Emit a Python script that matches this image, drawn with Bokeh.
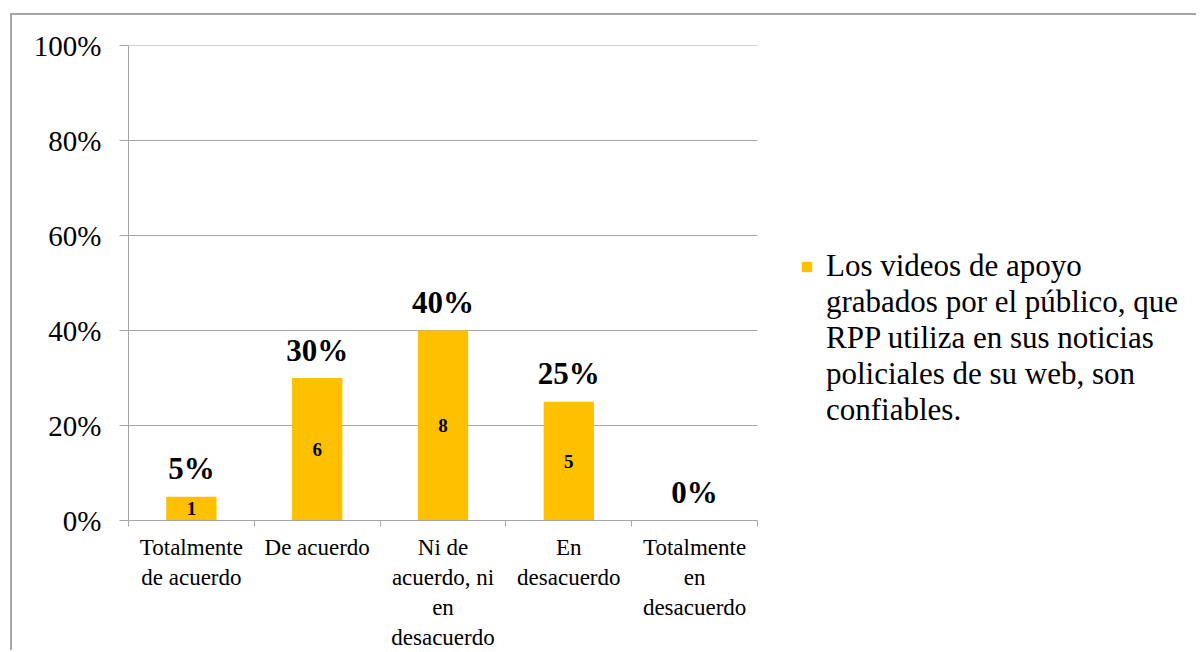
from bokeh.plotting import figure
from bokeh.models import (ColumnDataSource, FixedTicker, NumeralTickFormatter,
                          Range1d, Legend, LegendItem)
from bokeh.core.properties import value
from bokeh.embed import file_html
from bokeh.resources import INLINE

categories = ["Totalmente\nde acuerdo", "De acuerdo",
              "Ni de\nacuerdo, ni\nen\ndesacuerdo", "En\ndesacuerdo",
              "Totalmente\nen\ndesacuerdo"]
percentages = [0.05, 0.30, 0.40, 0.25, 0.00]
counts = [1, 6, 8, 5, 0]
y_ticks = [0.0, 0.2, 0.4, 0.6, 0.8, 1.0]
series_name_lines = ["Los videos de apoyo", "grabados por el público, que",
                     "RPP utiliza en sus noticias", "policiales de su web, son",
                     "confiables."]

FONT = "Liberation Serif"
BAR = "#FFC000"
GRAY = "#A6A6A6"

n = len(categories)
xpos = [i + 0.5 for i in range(n)]
src = ColumnDataSource(dict(
    x=xpos, top=percentages,
    pct=[f"{int(round(v * 100))}%" for v in percentages],
))
inner = ColumnDataSource(dict(
    x=[xpos[i] for i, c in enumerate(counts) if c > 0],
    y=[percentages[i] / 2 for i, c in enumerate(counts) if c > 0],
    t=[str(c) for c in counts if c > 0],
))
grid_src = ColumnDataSource(dict(x0=[0] * len(y_ticks), x1=[n] * len(y_ticks), y=y_ticks))

# canvas starts at page (12, 15); plot area of the categories is 629 px wide,
# the frame continues to the right edge so the legend sits inside it
W, H = 1186, 637
LEFT = 116
CAT_PX = 629
frame_px = W - LEFT
p = figure(width=W, height=H, output_backend="svg", toolbar_location=None,
           x_range=Range1d(0, n * frame_px / CAT_PX), y_range=Range1d(0, 1),
           min_border_left=LEFT, min_border_right=0,
           min_border_top=30, min_border_bottom=H - 505)
p.styles = {"margin-left": "10px", "margin-top": "13px",
            "border-left": f"2px solid {GRAY}", "border-top": f"2px solid {GRAY}"}
p.outline_line_color = None
p.background_fill_color = "white"
p.border_fill_color = "white"

# horizontal gridlines over the category area only
p.segment(x0="x0", x1="x1", y0="y", y1="y", source=grid_src,
          line_color=GRAY, line_width=1)

bars = p.vbar(x="x", top="top", width=0.4, source=src, fill_color=BAR, line_color=None)
# invisible renderer used only to continue the legend text without a swatch
cont = p.vbar(x=[], top=[], width=0.4, fill_alpha=0, line_alpha=0)

p.text(x="x", y="top", text="pct", source=src, y_offset=-28,
       text_align="center", text_baseline="middle",
       text_font=value(FONT), text_font_size="31px", text_font_style="bold",
       text_color="black")
p.text(x="x", y="y", text="t", source=inner,
       text_align="center", text_baseline="middle",
       text_font=value(FONT), text_font_size="19px", text_font_style="bold",
       text_color="black")

# y axis
p.yaxis.ticker = FixedTicker(ticks=y_ticks)
p.yaxis.formatter = NumeralTickFormatter(format="0%")
p.yaxis.major_label_text_font = FONT
p.yaxis.major_label_text_font_size = "29px"
p.yaxis.major_label_text_color = "black"
p.yaxis.axis_line_color = GRAY
p.yaxis.major_tick_line_color = GRAY
p.yaxis.major_tick_out = 9
p.yaxis.major_tick_in = 0
p.yaxis.minor_tick_line_color = None
p.yaxis.major_label_standoff = 18

# x axis
p.xaxis.bounds = (0, n)
p.xaxis.ticker = FixedTicker(ticks=xpos, minor_ticks=list(range(n + 1)))
p.xaxis.major_label_overrides = {x: c for x, c in zip(xpos, categories)}
p.xaxis.major_label_text_font = FONT
p.xaxis.major_label_text_font_size = "23px"
p.xaxis.major_label_text_color = "black"
p.xaxis.axis_line_color = GRAY
p.xaxis.major_tick_line_color = None
p.xaxis.major_tick_out = 0
p.xaxis.major_tick_in = 0
p.xaxis.minor_tick_line_color = GRAY
p.xaxis.minor_tick_out = 6
p.xaxis.minor_tick_in = 0
p.xaxis.major_label_standoff = 8

p.xgrid.grid_line_color = None
p.ygrid.grid_line_color = None

legend = Legend(items=[LegendItem(label=series_name_lines[0], renderers=[bars]),
                       LegendItem(label="\n".join(series_name_lines[1:]), renderers=[cont])],
                location=(672, 92), padding=0, margin=0, spacing=0,
                glyph_width=13, glyph_height=13, label_standoff=13,
                label_text_font=FONT, label_text_font_size="31px",
                label_text_color="black",
                border_line_color=None, background_fill_alpha=0)
p.add_layout(legend, "center")

open("out.html", "w").write(file_html(p, INLINE))
